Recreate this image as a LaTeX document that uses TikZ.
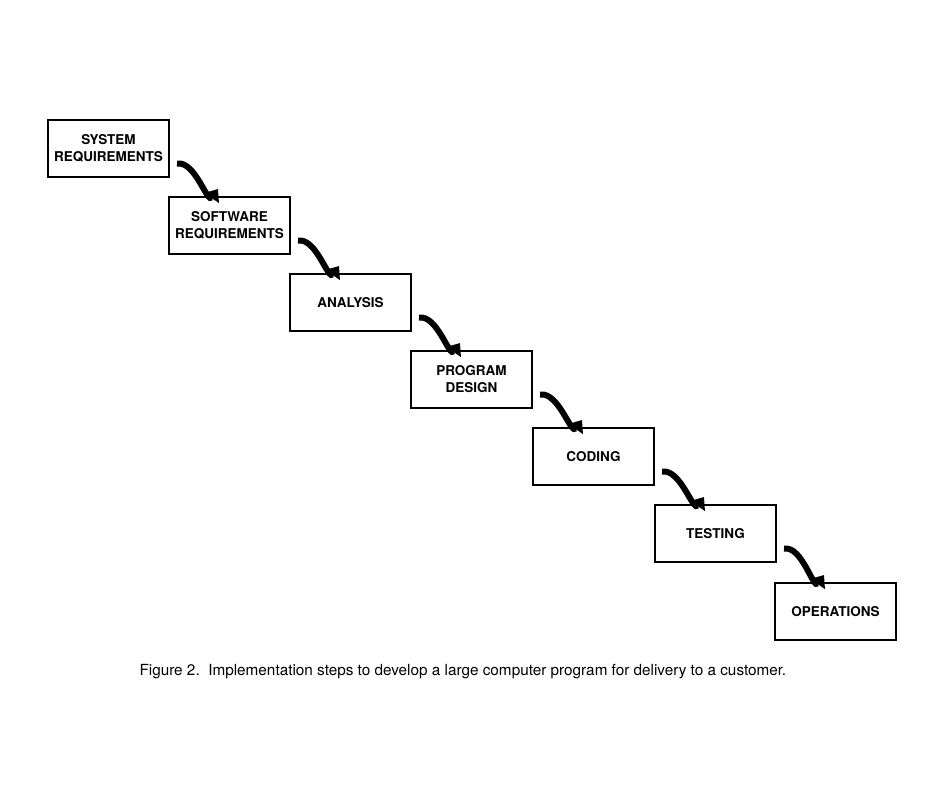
\documentclass[tikz,border=0pt]{standalone}
\usepackage{fontspec}
\setmainfont{TeX Gyre Heros}
\usetikzlibrary{arrows.meta}
\begin{document}
\begin{tikzpicture}[x=1pt,y=-1pt,
  stepbox/.style={draw,line width=2pt,minimum width=121pt,minimum height=57pt,anchor=north west,align=center,font=\bfseries\fontsize{13.5}{17}\selectfont,inner sep=0pt},
  bigarrow/.style={line width=6pt,-{Triangle[length=11pt,width=17pt]}}]
\useasboundingbox (0,0) rectangle (940,788);
\node[stepbox] (s1) at (47,119) {SYSTEM\\REQUIREMENTS};
\node[stepbox] (s2) at (168,196) {SOFTWARE\\REQUIREMENTS};
\node[stepbox] (s3) at (289,273) {ANALYSIS};
\node[stepbox] (s4) at (410,350) {PROGRAM\\DESIGN};
\node[stepbox] (s5) at (532,427) {CODING};
\node[stepbox] (s6) at (654,504) {TESTING};
\node[stepbox] (s7) at (774,582) {OPERATIONS};
\foreach \a/\b in {s1/s2,s2/s3,s3/s4,s4/s5,s5/s6,s6/s7}
  \draw[bigarrow] ([xshift=7pt,yshift=-15pt]\a.east) to[out=8,in=-125] ([xshift=50pt,yshift=7pt]\b.north west);
\node[font=\fontsize{15.3}{18}\selectfont,anchor=west] (cap) at (136,672) {Figure 2.\ \ Implementation steps to develop a large computer program for delivery to a customer.};
\end{tikzpicture}
\end{document}
